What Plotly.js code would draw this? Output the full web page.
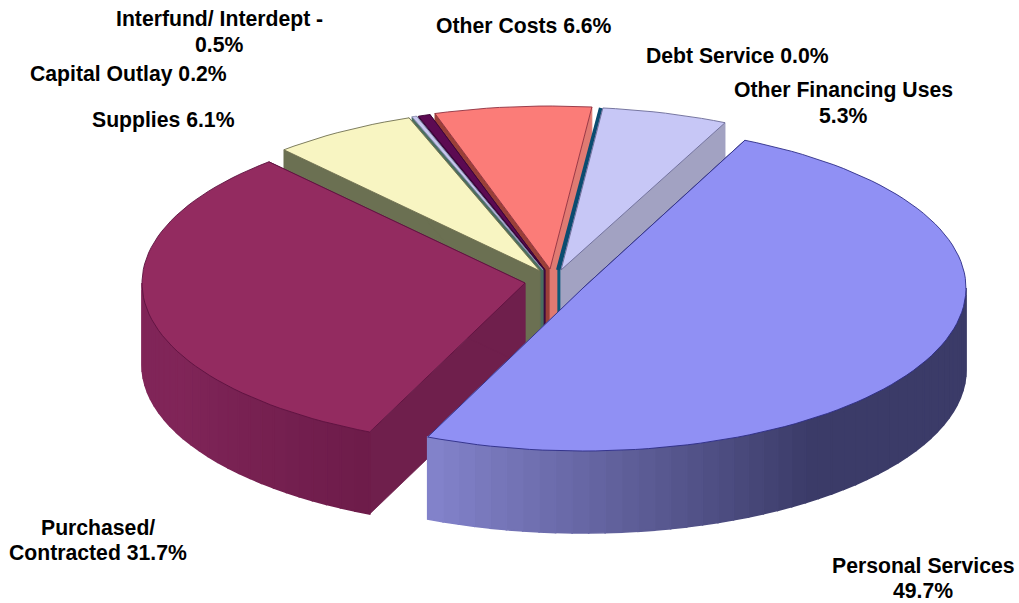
<!DOCTYPE html>
<html>
<head>
<meta charset="utf-8">
<script src="https://cdn.plot.ly/plotly-3.0.1.min.js"></script>
<style>html,body{margin:0;padding:0;background:#fff}#chart{width:1019px;height:603px}</style>
</head>
<body>
<div id="chart"></div>
<script>
// ---- data, clockwise from the Personal Services slice
var categories = ["Personal Services","Purchased/ Contracted","Supplies","Capital Outlay","Interfund/ Interdept -","Other Costs","Debt Service","Other Financing Uses"];
var shares = [49.7,31.7,6.1,0.2,0.5,6.6,0.0,5.3];
var labelTexts = ["Personal Services<br>49.7%","Purchased/<br>Contracted 31.7%","Supplies 6.1%","Capital Outlay 0.2%","Interfund/ Interdept -<br>0.5%","Other Costs 6.6%","Debt Service 0.0%","Other Financing Uses<br>5.3%"];

// ---- styles
var topColors = ["#9090f4","#932b60","#f8f5c2","#c6c6ee","#5c0a52","#fb7c78","#0a6c8c","#c7c7f6"];
var edgeColors = ["#2c2c86","#5e1240","#6f6f50","#8a8ab0","#3c0636","#8f3040","#0a4c70","#6a6a96"];
var wallLight = ["#8484cc","#802558","#6d7155","#4a6e60","#3c0a40","#a85038","#0a5a78","#a2a2c2"];
var wallDark = ["#3b3b68","#6d1c4a","#6d7155","#4a6e60","#3c0a40","#a85038","#0a5a78","#a2a2c2"];
var cutStart = ["#3b3b68","#6f1f4c","#6b7052","#4a6e60","#3c0a40","#9a4038","#0a5a78","#a2a2c2"];
var cutEnd = ["#8484cc","#6f1f4c","#6b7052","#4a6e60","#3c0a40","#e07a72","#0a5a78","#a2a2c2"];

// ---- layout of the tilted pie in pixel-valued axis units
var slicePivotX = [583,525,540,543,545,550,558,561];
var slicePivotY = [288,283,271,270,270,269,270,270];
var radiusX = 383, radiusY = 163, depth = 82, firstAngle = -65;
var labelX = [923,98,163,128,219,524,737,843];
var labelY = [565,527,120,74,19,25,55,90];
var labelLineGap = 25.5;
var labelSize = 21.2;
var drawOrder = [5,6,7,4,3,2,1,0];
var minVisibleSweep = 0.15;

function rad(d){return d*Math.PI/180;}
function rimX(i,t){return slicePivotX[i]+radiusX*Math.cos(rad(t));}
function rimY(i,t){return slicePivotY[i]+radiusY*Math.sin(rad(t));}
function hex2(c){return [1,3,5].map(function(k){return parseInt(c.substr(k,2),16);});}
function mix(a,b,f){var A=hex2(a),B=hex2(b);return "rgb("+A.map(function(v,k){return Math.round(v+(B[k]-v)*f);}).join(",")+")";}

var starts=[],ends=[],running=firstAngle;
shares.forEach(function(s){
  starts.push(running);
  ends.push(running+s*3.6);
  running+=s*3.6;
});

var traces=[];
function poly(xs,ys,fill,line,width,name){
  traces.push({type:"scatter",mode:"lines",x:xs.concat([xs[0]]),y:ys.concat([ys[0]]),fill:"toself",
    fillcolor:fill,line:{color:line,width:width},name:name,hoverinfo:"name",showlegend:false});
}
drawOrder.forEach(function(i){
  var a=starts[i], b=Math.max(ends[i],a+minVisibleSweep), px=slicePivotX[i], py=slicePivotY[i], name=categories[i];
  // cut faces
  [[a,cutStart[i]],[b,cutEnd[i]]].forEach(function(c){
    var rx=rimX(i,c[0]), ry=rimY(i,c[0]);
    poly([px,rx,rx,px],[py,ry,ry+depth,py+depth],c[1],c[1],0.8,name);
  });
  // rounded outer wall: the part of the rim facing the viewer, shaded in strips
  var from=Math.max(a,0), to=Math.min(b,180);
  if(to>from){
    var strips=Math.max(2,Math.ceil((to-from)/2.5));
    for(var s=0;s<strips;s++){
      var t0=from+(to-from)*s/strips, t1=from+(to-from)*(s+1)/strips, mid=(t0+t1)/2;
      var xs=[rimX(i,t0),rimX(i,t1),rimX(i,t1),rimX(i,t0)];
      var ys=[rimY(i,t0),rimY(i,t1),rimY(i,t1)+depth,rimY(i,t0)+depth];
      var col=i===1?mix(wallDark[i],wallLight[i],Math.min(1,(mid-114)/40))
                   :mix(wallLight[i],wallDark[i],Math.max(0,Math.min(1,(114-mid)/60)));
      poly(xs,ys,col,col,1.6,name);
    }
  }
  // top face
  var tx=[px],ty=[py],steps=Math.max(2,Math.ceil((b-a)/2));
  for(var q=0;q<=steps;q++){var v=a+(b-a)*q/steps;tx.push(rimX(i,v));ty.push(rimY(i,v));}
  poly(tx,ty,topColors[i],edgeColors[i],i===6?4:0.9,name);
});

var annotations=[];
labelTexts.forEach(function(txt,i){
  txt.split("<br>").forEach(function(line,n){
    annotations.push({x:labelX[i],y:labelY[i]+n*labelLineGap,xref:"x",yref:"y",text:"<b>"+line+"</b>",showarrow:false,align:"center",
      xanchor:"center",yanchor:"middle",font:{family:"Liberation Sans, Arial, sans-serif",size:labelSize,color:"#000"}});
  });
});

Plotly.newPlot("chart",traces,{
  width:1019,height:603,margin:{l:0,r:0,t:0,b:0},paper_bgcolor:"#fff",plot_bgcolor:"#fff",showlegend:false,
  xaxis:{range:[0,1019],visible:false,fixedrange:true},
  yaxis:{range:[603,0],visible:false,fixedrange:true},
  annotations:annotations
},{displayModeBar:false});
</script>
</body>
</html>
